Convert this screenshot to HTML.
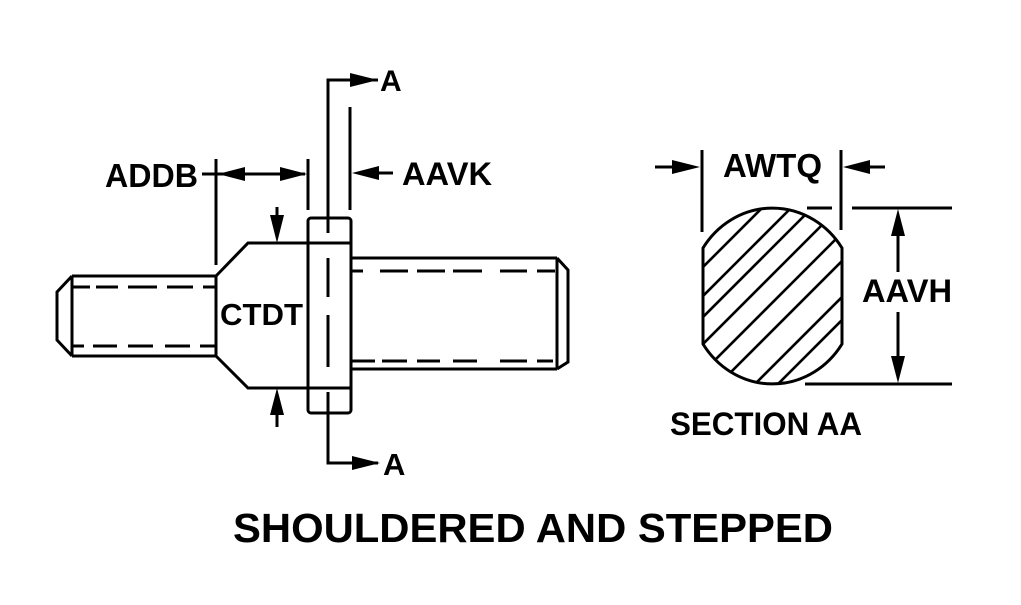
<!DOCTYPE html>
<html>
<head>
<meta charset="utf-8">
<style>
html,body{margin:0;padding:0;background:#fff;}
svg{display:block;}
text{font-family:"Liberation Sans",Arial,sans-serif;font-weight:bold;fill:#000;}
</style>
</head>
<body>
<svg width="1021" height="605" viewBox="0 0 1021 605" xmlns="http://www.w3.org/2000/svg">
<defs>
<clipPath id="sec">
<path d="M703,248 L703,344 A83,88 0 0 0 842,344 L842,248 A83,88 0 0 0 703,248 Z"/>
</clipPath>
</defs>
<g stroke="#000" stroke-width="3" fill="none" stroke-linecap="butt" stroke-linejoin="miter">
<!-- left stud -->
<line x1="72" y1="276" x2="216" y2="276"/>
<line x1="72" y1="356" x2="216" y2="356"/>
<line x1="72" y1="276" x2="72" y2="356"/>
<polyline points="72,276 57,292 57,340 72,356"/>
<!-- left stud dashes -->
<path d="M72,287H90M96,287H118M128,287H157M167,287H193M203,287H216"/>
<path d="M72,346H84M93,346H117M128,346H153M165,346H190M200,346H216"/>
<!-- shoulder -->
<line x1="216" y1="275" x2="216" y2="357"/>
<polyline points="216,276 248,243 351,243"/>
<polyline points="216,356 248,388 351,388"/>
<!-- flange -->
<rect x="308" y="218" width="43" height="195" rx="3" ry="3"/>
<!-- right stud -->
<line x1="351" y1="258" x2="557" y2="258"/>
<line x1="351" y1="369" x2="557" y2="369"/>
<line x1="557" y1="258" x2="557" y2="369"/>
<polyline points="557,258 568,270 568,362 557,369"/>
<path d="M352,271H363M380,271H408M417,271H445M453,271H482M500,271H527M537,271H555"/>
<path d="M352,361H375M382,361H407M417,361H440M453,361H477M500,361H527M537,361H553"/>
<!-- section line -->
<polyline points="378,80 328,80 328,233"/>
<path d="M328,258V297M328,315V367"/>
<polyline points="328,392 328,463 378,463"/>
<!-- extension lines -->
<line x1="216" y1="159" x2="216" y2="265"/>
<line x1="308" y1="159" x2="308" y2="210"/>
<line x1="350" y1="107" x2="350" y2="210"/>
<!-- ADDB dim -->
<line x1="202" y1="174" x2="305" y2="174"/>
<!-- AAVK -->
<line x1="360" y1="173" x2="393" y2="173"/>
<!-- CTDT arrows -->
<line x1="277" y1="207" x2="277" y2="230"/>
<line x1="277" y1="400" x2="277" y2="427"/>
<!-- section AA shape -->
<path d="M703,248 L703,344 A83,88 0 0 0 842,344 L842,248 A83,88 0 0 0 703,248 Z"/>
<!-- AWTQ -->
<line x1="702" y1="150" x2="702" y2="232"/>
<line x1="841" y1="150" x2="841" y2="230"/>
<line x1="655" y1="167" x2="690" y2="167"/>
<line x1="853" y1="167" x2="885" y2="167"/>
<!-- AAVH -->
<line x1="807" y1="208" x2="832" y2="208"/>
<line x1="852" y1="208" x2="952" y2="208"/>
<line x1="805" y1="384" x2="952" y2="384"/>
<line x1="898" y1="220" x2="898" y2="272"/>
<line x1="898" y1="312" x2="898" y2="372"/>
</g>
<!-- hatching -->
<g clip-path="url(#sec)" stroke="#000" stroke-width="2.6">
<line x1="670" y1="300" x2="870" y2="100"/>
<line x1="670" y1="329" x2="870" y2="129"/>
<line x1="670" y1="350" x2="870" y2="150"/>
<line x1="670" y1="377" x2="870" y2="177"/>
<line x1="670" y1="405" x2="870" y2="205"/>
<line x1="670" y1="433" x2="870" y2="233"/>
<line x1="670" y1="469" x2="870" y2="269"/>
<line x1="670" y1="492" x2="870" y2="292"/>
</g>
<!-- arrowheads -->
<g fill="#000" stroke="none">
<!-- top A -->
<polygon points="378,80 350,73 350,87"/>
<!-- bottom A -->
<polygon points="380,463 352,456 352,470"/>
<!-- ADDB -->
<polygon points="218,174 245,167 245,181"/>
<polygon points="307,174 280,167 280,181"/>
<!-- AAVK -->
<polygon points="352,173 379,166 379,180"/>
<!-- CTDT -->
<polygon points="277,243 270,215 284,215"/>
<polygon points="277,388 270,415 284,415"/>
<!-- AWTQ -->
<polygon points="700,167 672,160 672,174"/>
<polygon points="843,167 870,160 870,174"/>
<!-- AAVH -->
<polygon points="898,209 891,236 905,236"/>
<polygon points="898,383 891,356 905,356"/>
</g>
<!-- text -->
<text x="105" y="187" font-size="33" textLength="93" lengthAdjust="spacingAndGlyphs">ADDB</text>
<text x="402" y="185" font-size="32" textLength="90" lengthAdjust="spacingAndGlyphs">AAVK</text>
<text x="380" y="91" font-size="30">A</text>
<text x="383" y="475" font-size="31">A</text>
<text x="220" y="325" font-size="31" textLength="83" lengthAdjust="spacingAndGlyphs">CTDT</text>
<text x="723" y="177" font-size="33" textLength="99" lengthAdjust="spacingAndGlyphs">AWTQ</text>
<text x="862" y="302" font-size="32" textLength="90" lengthAdjust="spacingAndGlyphs">AAVH</text>
<text x="670" y="435" font-size="32" textLength="192" lengthAdjust="spacingAndGlyphs">SECTION AA</text>
<text x="233" y="542" font-size="41" textLength="600" lengthAdjust="spacingAndGlyphs">SHOULDERED AND STEPPED</text>
</svg>
</body>
</html>
